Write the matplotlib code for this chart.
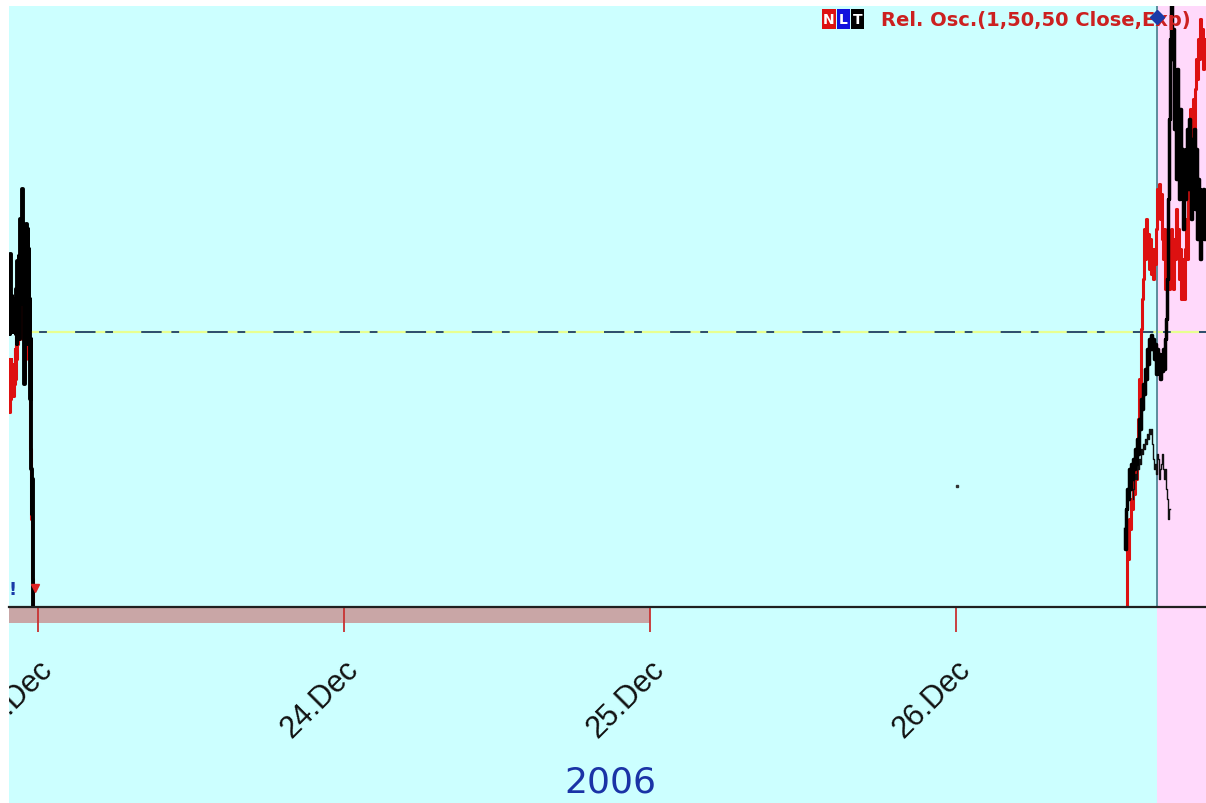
import numpy as np
import matplotlib
matplotlib.use("Agg")
import matplotlib.pyplot as plt
from matplotlib.patches import Rectangle
import matplotlib.transforms as mtransforms

# ---------------- data ----------------
# time in hours from 23 Dec 2006 00:00, oscillator value (0..100 scale)
tick_hours = [0, 24, 48, 72]
tick_labels = ["23.Dec", "24.Dec", "25.Dec", "26.Dec"]
year_label = "2006"

left_start, left_step = -2.27, 0.0392
left_black = [47.2, 51.7, 45.5, 58.8, 51.3, 46.3, 51.8, 45.8, 50.5, 46.3,
              51.3, 45.8, 49.7, 51.3, 45.5, 53.0, 43.8, 57.7, 51.3, 48.0,
              58.5, 44.7, 51.3, 64.7, 57.7, 63.0, 51.3, 69.7, 61.3, 50.5,
              59.7, 37.2, 51.3, 61.3, 46.3, 63.8, 57.7, 43.8, 63.0, 51.3,
              59.7, 46.3, 51.3, 34.7, 44.7, 23.0, 15.5, 21.3, 8.0, 0.0]
left_red = [41.3, 32.5, 38.0, 34.7, 41.3, 35.5, 38.8, 36.3, 38.5, 35.2,
            40.5, 37.2, 43.0, 38.0, 46.3, 41.3, 48.0, 43.8, 51.3, 45.5,
            49.7, 44.7, 53.0, 48.0, 51.3, 46.3, 53.8, 49.7, 51.3, 44.7,
            48.0, 38.0, 51.3, 41.3, 53.0, 44.7, 49.7, 43.0, 46.3, 43.8,
            44.7, 41.3, 34.7, 26.3, 21.3, 14.7, 11.3, 4.7, 1.3, 0.0]

right_step = 0.0784
red_start = 85.41
right_red = [0.0, 11.3, 8.0, 14.7, 13.0, 18.0, 16.3, 21.3, 18.8, 23.0,
             21.3, 28.0, 31.3, 38.0, 34.7, 46.3, 51.3, 54.7, 63.0, 58.0,
             64.7, 59.7, 62.2, 56.3, 61.3, 55.5, 59.7, 54.7, 59.7, 57.2,
             63.0, 69.7, 65.5, 70.5, 64.7, 68.8, 61.3, 58.0, 63.0, 53.0,
             59.7, 55.5, 61.3, 53.0, 58.0, 63.0, 56.3, 53.0, 61.3, 58.0,
             66.3, 59.7, 63.0, 54.7, 59.7, 51.3, 58.0, 53.0, 51.3, 59.7,
             64.7, 58.0, 71.3, 78.0, 83.0, 74.7, 81.3, 84.7, 76.3, 86.3,
             91.3, 88.0, 94.7, 91.3, 98.0, 93.0, 96.3, 89.7, 94.7, 93.0]
black_start = 85.25
right_black = [13.0, 9.7, 16.3, 19.7, 18.0, 23.0, 19.7, 23.8, 21.3, 24.7,
               23.0, 26.3, 23.8, 28.0, 25.5, 31.3, 29.7, 34.7, 33.0, 37.2,
               35.5, 39.7, 38.0, 43.0, 40.5, 44.7, 43.0, 45.3, 43.0, 44.7,
               41.3, 43.8, 38.8, 43.0, 39.7, 42.2, 38.0, 41.3, 39.3, 43.0,
               39.7, 44.7, 48.0, 54.7, 68.0, 81.3, 94.7, 100.5, 91.3, 96.3,
               79.7, 86.3, 71.3, 89.7, 78.0, 68.0, 83.0, 71.3, 76.3, 63.0,
               73.0, 68.0, 76.3, 79.7, 69.7, 81.3, 73.0, 64.7, 78.0, 71.3,
               79.7, 66.3, 76.3, 61.3, 71.3, 69.7, 58.0, 68.0, 63.0, 69.7,
               61.3, 66.3]
thin_start = 85.88
right_thin = [18.0, 19.7, 21.3, 22.2, 21.3, 23.8, 23.0, 24.7, 23.8, 26.3,
              25.5, 27.2, 26.3, 28.0, 27.2, 28.8, 28.0, 29.7, 28.8, 29.7,
              27.2, 24.7, 23.0, 23.8, 22.2, 25.5, 24.7, 21.3, 23.0, 23.8,
              25.5, 23.0, 21.3, 23.0, 19.7, 18.0, 14.7, 16.3]

ref_level = 45.8
now_hour = 87.76
dot_point = (72.08, 20.2)

# ---------------- figure ----------------
W, H = 1206, 804
fig = plt.figure(figsize=(W / 100, H / 100), dpi=100, facecolor="white")
cyan = "#ccffff"
pink = "#ffd9fb"
fig.patches.append(Rectangle((9 / W, 0), 1 - 9 / W, (H - 7) / H,
                             transform=fig.transFigure, facecolor=cyan,
                             edgecolor="none", zorder=-5))
panel_clip = mtransforms.TransformedBbox(
    mtransforms.Bbox([[9 / W, 0], [1, (H - 7) / H]]), fig.transFigure)

ax = fig.add_axes([9 / W, (H - 608) / H, (W - 9) / W, (608 - 7) / H])
ax.set_facecolor(cyan)
xmin, xmax = -2.27, 91.61
ax.set_xlim(xmin, xmax)
ax.set_ylim(0, 100.17)

for s in ["top", "right", "left"]:
    ax.spines[s].set_visible(False)
ax.spines["bottom"].set_color("#202020")
ax.spines["bottom"].set_linewidth(1.6)
ax.spines["bottom"].set_zorder(5)
ax.set_yticks([])

# pink region (future)
ax.axvspan(now_hour, xmax + 5, ymin=-0.35, ymax=1, facecolor=pink,
           edgecolor="none", clip_on=False, zorder=0.5)
# grey bar under baseline
bt = mtransforms.blended_transform_factory(ax.transData, ax.transAxes)
ax.add_patch(Rectangle((xmin, -0.027), 48 - xmin, 0.027, transform=bt,
                       facecolor="#c9a6a6", edgecolor="none",
                       clip_on=False, zorder=0.8))

# reference level dash-dot
ax.axhline(ref_level, color="#e8ff90", lw=1.6, zorder=1)
ax.axhline(ref_level, color="#2b4c6e", lw=1.4, dashes=(10.5, 5, 4, 14.5),
           zorder=1.1)

# now line
ax.axvline(now_hour, color="#5b8c9c", lw=1.4, zorder=1.2)

# series
lt = left_start + left_step * np.arange(len(left_black))
ax.plot(lt, left_red, color="#dd1111", lw=2.2, drawstyle="steps-mid", zorder=2)
ax.plot(lt, left_black, color="#000000", lw=2.8, drawstyle="steps-mid", zorder=3)

rt_red = red_start + right_step * np.arange(len(right_red))
rt_black = black_start + right_step * np.arange(len(right_black))
rt_thin = thin_start + right_step * np.arange(len(right_thin))
ax.plot(rt_red, right_red, color="#dd1111", lw=2.2, drawstyle="steps-mid", zorder=2)
ax.plot(rt_thin, right_thin, color="#111111", lw=1.0, drawstyle="steps-mid", zorder=3)
ax.plot(rt_black, right_black, color="#000000", lw=2.5, drawstyle="steps-mid", zorder=3)

ax.plot([dot_point[0]], [dot_point[1]], "s", color="#333333", ms=1.5, zorder=3)

# small markers bottom-left
ax.text(-2.0, 1.5, "!", color="#1a3aa8", fontsize=13, fontweight="bold",
        ha="center", va="bottom", family="DejaVu Sans", zorder=4)
ax.plot([-0.25], [3.2], marker="v", color="#dd2222", ms=6, zorder=4,
        clip_on=False)

# x ticks
ax.set_xticks(tick_hours)
ax.set_xticklabels([])
ax.tick_params(axis="x", direction="out", length=18, width=1.3,
               color="#c83232")
for t, lab in zip(tick_hours, tick_labels):
    txt = ax.text(t + 0.8, -0.095, lab, transform=bt, rotation=45,
                  rotation_mode="anchor", ha="right", va="center",
                  fontsize=22, family="Liberation Sans", color="#111111")
    txt.set_clip_on(True)
    txt.set_clip_box(panel_clip)

fig.text(610 / W, 1 - 783 / H, year_label, ha="center", va="center",
         fontsize=26, color="#1a33a6", family="DejaVu Sans")

# top-right legend
box_y0 = 1 - 30 / H
box_h = 20 / H
for i, (letter, col) in enumerate([("N", "#dd1111"), ("L", "#1111dd"),
                                   ("T", "#000000")]):
    x0 = (822 + i * 14.5) / W
    fig.patches.append(Rectangle((x0, box_y0), 13.5 / W, box_h,
                                 transform=fig.transFigure, facecolor=col,
                                 edgecolor="none", zorder=6))
    fig.text(x0 + 6.75 / W, box_y0 + box_h / 2, letter, ha="center",
             va="center", color="white", fontsize=10, fontweight="bold",
             family="DejaVu Sans", zorder=7)
fig.text(881 / W, 1 - 20 / H, "Rel. Osc.(1,50,50 Close,Exp)", ha="left",
         va="center", color="#cc2020", fontsize=14, fontweight="bold",
         family="DejaVu Sans", zorder=7)
fig.lines.append(plt.Line2D([1157 / W], [1 - 18 / H], marker="D",
                            color="#1a3aa8", ms=7, transform=fig.transFigure,
                            zorder=8))

fig.savefig("out.png", dpi=100, facecolor="white")
